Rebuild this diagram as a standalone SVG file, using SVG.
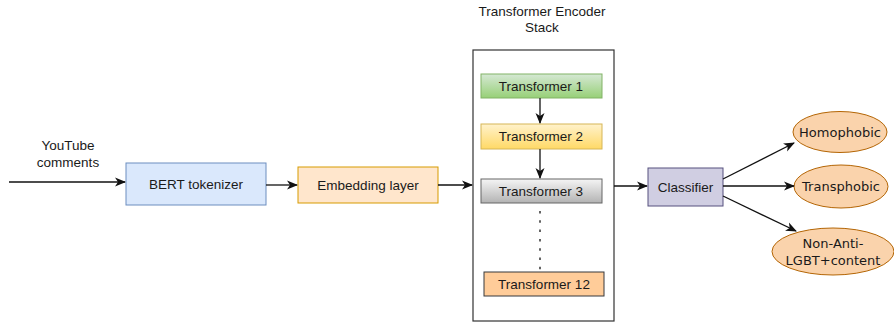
<svg xmlns="http://www.w3.org/2000/svg" width="894" height="322" viewBox="0 0 894 322">
<defs>
<style>
text{font-family:"Liberation Sans",Arial,sans-serif;font-size:13.5px;fill:#1a1a1a;text-anchor:middle;dominant-baseline:central}
.ell text{font-family:"DejaVu Sans",Verdana,sans-serif;font-size:13px}
.conn line,.conn path{stroke:#111;stroke-width:1.3;fill:none}
.ellipse{fill:#fad3ac;stroke:#b46504;stroke-width:1}
</style>
<marker id="ah" markerWidth="12" markerHeight="10" refX="10" refY="5" orient="auto" markerUnits="userSpaceOnUse">
<path d="M0,0.5 L11,5 L0,9.5 L3,5 Z" fill="#111"/>
</marker>
<linearGradient id="gG" x1="0" y1="0" x2="0" y2="1"><stop offset="0" stop-color="#d5e8d4"/><stop offset="1" stop-color="#97d077"/></linearGradient>
<linearGradient id="gY" x1="0" y1="0" x2="0" y2="1"><stop offset="0" stop-color="#fff2cc"/><stop offset="1" stop-color="#ffd966"/></linearGradient>
<linearGradient id="gS" x1="0" y1="0" x2="0" y2="1"><stop offset="0" stop-color="#f5f5f5"/><stop offset="1" stop-color="#b3b3b3"/></linearGradient>
</defs>
<rect width="894" height="322" fill="#fff"/>

<g id="input-label"><text x="68" y="145">YouTube</text><text x="68" y="162">comments</text></g>

<g id="bert"><rect x="126" y="163" width="140" height="42" fill="#dae8fc" stroke="#6c8ebf"/><text x="196" y="184">BERT tokenizer</text></g>
<g id="embedding"><rect x="298" y="167" width="140" height="36" fill="#ffe6cc" stroke="#d79b00"/><text x="368" y="185">Embedding layer</text></g>

<g id="stack"><rect x="473" y="50" width="141" height="271" fill="#fff" stroke="#333" stroke-width="1.2"/><text x="542" y="11">Transformer Encoder</text><text x="542" y="27">Stack</text></g>
<g id="t1"><rect x="481" y="74" width="121" height="24" fill="url(#gG)" stroke="#82b366"/><text x="541" y="86">Transformer 1</text></g>
<g id="t2"><rect x="481" y="124" width="121" height="25" fill="url(#gY)" stroke="#d6b656"/><text x="541" y="136.5">Transformer 2</text></g>
<g id="t3"><rect x="481" y="179" width="121" height="24" fill="url(#gS)" stroke="#666"/><text x="541" y="191">Transformer 3</text></g>
<g id="t12"><rect x="484" y="272" width="120" height="24" fill="#ffcc99" stroke="#36393d"/><text x="544" y="284">Transformer 12</text></g>

<g id="classifier"><rect x="648" y="168" width="75" height="38" fill="#d0cee2" stroke="#56517e"/><text x="685.5" y="187">Classifier</text></g>

<g id="homophobic" class="ell"><ellipse class="ellipse" cx="840" cy="132" rx="47" ry="20.5"/><text x="840" y="132">Homophobic</text></g>
<g id="transphobic" class="ell"><ellipse class="ellipse" cx="841" cy="186.5" rx="47" ry="21.5"/><text x="841" y="186.5">Transphobic</text></g>
<g id="nonanti" class="ell"><ellipse class="ellipse" cx="833" cy="251.5" rx="61" ry="23.5"/><text x="833" y="243">Non-Anti-</text><text x="833" y="260">LGBT+content</text></g>

<g class="conn" id="connectors">
<line x1="9" y1="182" x2="125" y2="182" marker-end="url(#ah)"/>
<line x1="266" y1="185" x2="297" y2="185" marker-end="url(#ah)"/>
<line x1="438" y1="185" x2="472" y2="185" marker-end="url(#ah)"/>
<line x1="540" y1="98" x2="540" y2="123" marker-end="url(#ah)"/>
<line x1="540" y1="149" x2="540" y2="178" marker-end="url(#ah)"/>
<line x1="540" y1="211" x2="540" y2="270" stroke-dasharray="2.5,6.8" stroke-width="2.5"/>
<line x1="614" y1="186" x2="647" y2="186" stroke="#777" marker-end="url(#ah)"/>
<line x1="723" y1="179" x2="794" y2="143" marker-end="url(#ah)"/>
<line x1="723" y1="186" x2="794" y2="186" marker-end="url(#ah)"/>
<line x1="723" y1="196" x2="796" y2="231" marker-end="url(#ah)"/>
</g>
</svg>
